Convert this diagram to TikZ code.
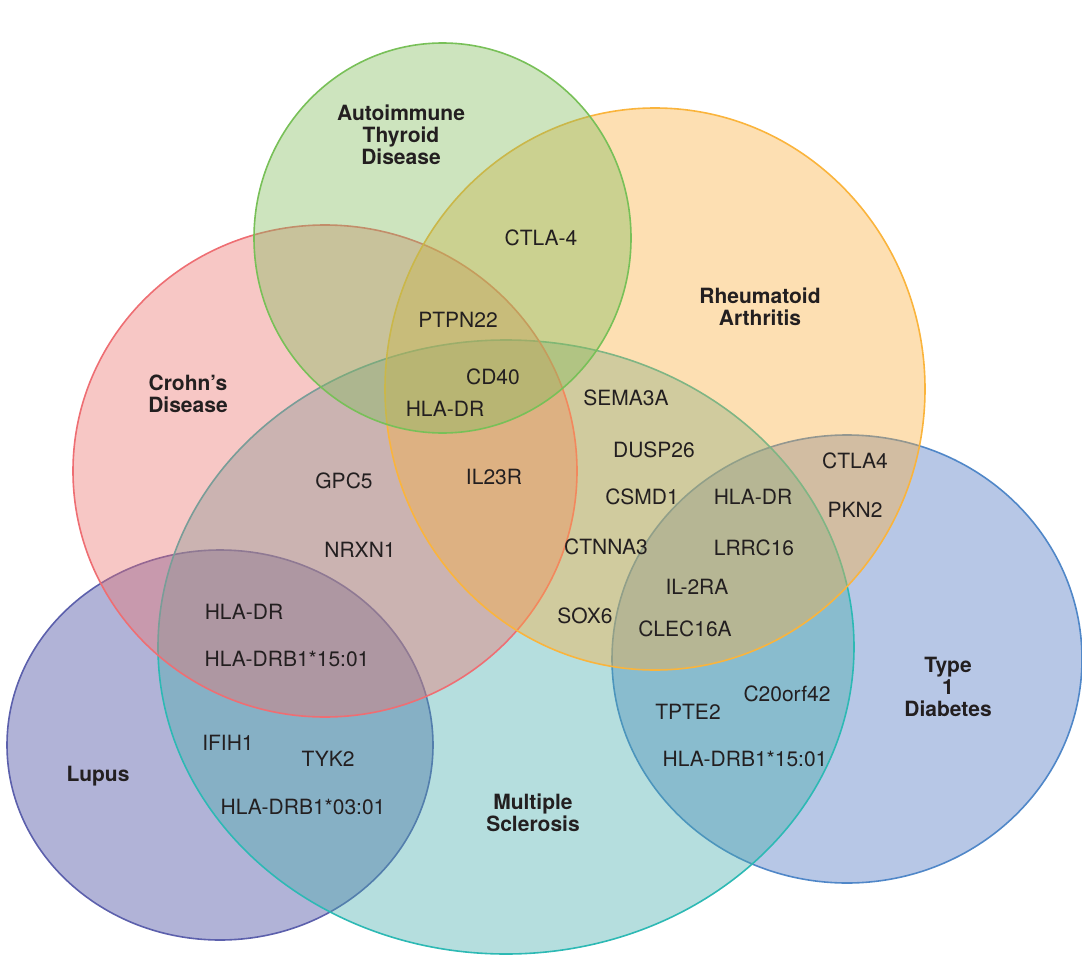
\documentclass[tikz,border=0pt]{standalone}
\usepackage{fontspec}
\setmainfont{TeX Gyre Heros}
\definecolor{txt}{RGB}{35,31,32}
\definecolor{grF}{RGB}{130,188,93}\definecolor{grS}{RGB}{120,192,88}
\definecolor{orF}{RGB}{250,175,62}\definecolor{orS}{RGB}{250,180,60}
\definecolor{rdF}{RGB}{235,115,110}\definecolor{rdS}{RGB}{238,110,115}
\definecolor{luF}{RGB}{60,65,155}\definecolor{luS}{RGB}{92,96,172}
\definecolor{teF}{RGB}{70,172,172}\definecolor{teS}{RGB}{45,185,180}
\definecolor{blF}{RGB}{75,115,192}\definecolor{blS}{RGB}{80,135,200}
\begin{document}
\begin{tikzpicture}[x=1pt,y=-1pt,
  setshape/.style 2 args={fill=#1, fill opacity=0.4, draw=#2, line width=1.6pt},
  gene/.style={inner sep=0pt, text=txt, font=\fontsize{21}{22}\selectfont},
  disease/.style={inner sep=0pt, text=txt, align=center, font=\fontsize{21}{22}\selectfont\bfseries}]
\useasboundingbox (0,0) rectangle (1082,966);
% sets
\filldraw[setshape={luF}{luS}] (220,745) ellipse [x radius=213pt, y radius=195pt];
\filldraw[setshape={blF}{blS}] (847,659) ellipse [x radius=235pt, y radius=224pt];
\filldraw[setshape={teF}{teS}] (506,647) ellipse [x radius=348pt, y radius=307pt];
\filldraw[setshape={rdF}{rdS}] (325,471) ellipse [x radius=252pt, y radius=246pt];
\filldraw[setshape={orF}{orS}] (655,389) ellipse [x radius=270pt, y radius=281pt];
\filldraw[setshape={grF}{grS}] (442.5,238) ellipse [x radius=188.5pt, y radius=195pt];
% disease labels
\node[disease] (atd) at (401,135) {Autoimmune\\Thyroid\\Disease};
\node[disease] (ra) at (760,307) {Rheumatoid\\Arthritis};
\node[disease] (cd) at (188,394) {Crohn’s\\Disease};
\node[disease] (lu) at (98,776) {Lupus};
\node[disease] (ms) at (533,813) {Multiple\\Sclerosis};
\node[disease] (t1d) at (948,687) {Type\\1\\Diabetes};
% genes
\node[gene] (g1) at (541,238) {CTLA-4};
\node[gene] (g2) at (458,320) {PTPN22};
\node[gene] (g3) at (493,377) {CD40};
\node[gene] (g4) at (445,409) {HLA-DR};
\node[gene] (g5) at (626,398) {SEMA3A};
\node[gene] (g6) at (654,450) {DUSP26};
\node[gene] (g7) at (494,477) {IL23R};
\node[gene] (g8) at (344,481) {GPC5};
\node[gene] (g9) at (642,497) {CSMD1};
\node[gene] (g10) at (753,497) {HLA-DR};
\node[gene] (g11) at (855,461) {CTLA4};
\node[gene] (g12) at (855,510) {PKN2};
\node[gene] (g13) at (360,550) {NRXN1};
\node[gene] (g14) at (606,547) {CTNNA3};
\node[gene] (g15) at (754,548) {LRRC16};
\node[gene] (g16) at (697,587) {IL-2RA};
\node[gene] (g17) at (585,616) {SOX6};
\node[gene] (g18) at (685,629) {CLEC16A};
\node[gene] (g19) at (244,612) {HLA-DR};
\node[gene] (g20) at (287,659) {HLA-DRB1*15:01};
\node[gene] (g21) at (787,694) {C20orf42};
\node[gene] (g22) at (688,712) {TPTE2};
\node[gene] (g23) at (745,759) {HLA-DRB1*15:01};
\node[gene] (g24) at (228,743) {IFIH1};
\node[gene] (g25) at (328,759) {TYK2};
\node[gene] (g26) at (303,807) {HLA-DRB1*03:01};
\end{tikzpicture}
\end{document}
